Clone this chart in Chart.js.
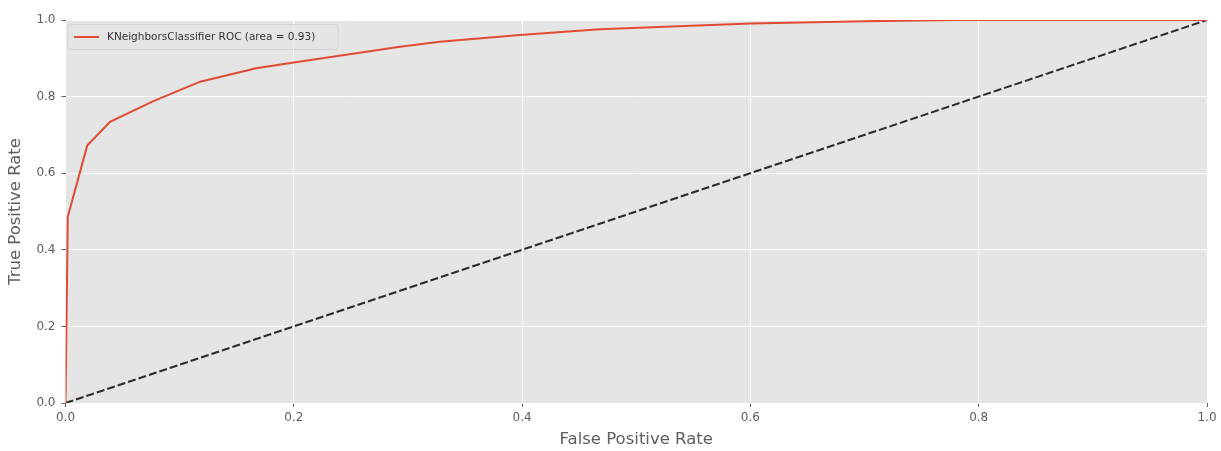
<!DOCTYPE html>
<html>
<head>
<meta charset="utf-8">
<script src="https://cdn.jsdelivr.net/npm/chart.js@4/dist/chart.umd.min.js"></script>
<style>
  html, body { margin: 0; padding: 0; background: #ffffff; }
  #wrap { width: 1221px; height: 451px; position: relative; }
</style>
</head>
<body>
<div id="wrap"><canvas id="roc"></canvas></div>
<script>
// ROC curve of the KNeighborsClassifier (false positive rate vs. true positive rate)
const fpr = [0, 0.002, 0.019, 0.039, 0.077, 0.118, 0.167, 0.200, 0.293, 0.328, 0.398, 0.468, 0.600, 0.700, 0.780, 1.000];
const tpr = [0, 0.486, 0.672, 0.734, 0.788, 0.839, 0.874, 0.889, 0.930, 0.943, 0.961, 0.976, 0.991, 0.997, 1.000, 1.000];

// chance diagonal
const chanceX = [0, 1];
const chanceY = [0, 1];

const rocLabel = 'KNeighborsClassifier ROC (area = 0.93)';
const xTitle = 'False Positive Rate';
const yTitle = 'True Positive Rate';
const tickValues = [0, 0.2, 0.4, 0.6, 0.8, 1.0];

const FONT = "'DejaVu Sans', sans-serif";
const TEXT_GREY = '#5e5e5e';

const toPoints = (xs, ys) => xs.map((x, i) => ({ x: x, y: ys[i] }));

// grey panel behind the plot
const panelBackground = {
  id: 'panelBackground',
  beforeDraw(chart) {
    const { ctx, chartArea: a } = chart;
    ctx.save();
    ctx.fillStyle = '#E5E5E5';
    ctx.fillRect(a.left, a.top, a.right - a.left, a.bottom - a.top);
    ctx.restore();
  }
};

// boxed legend in the upper-left corner of the plot
const cornerLegend = {
  id: 'cornerLegend',
  afterDatasetsDraw(chart) {
    const { ctx, chartArea: a } = chart;
    const ds = chart.data.datasets[0];
    const x = a.left + 2.5, y = a.top + 4.5, w = 270, h = 25, r = 3;
    ctx.save();
    ctx.beginPath();
    ctx.moveTo(x + r, y);
    ctx.lineTo(x + w - r, y);
    ctx.quadraticCurveTo(x + w, y, x + w, y + r);
    ctx.lineTo(x + w, y + h - r);
    ctx.quadraticCurveTo(x + w, y + h, x + w - r, y + h);
    ctx.lineTo(x + r, y + h);
    ctx.quadraticCurveTo(x, y + h, x, y + h - r);
    ctx.lineTo(x, y + r);
    ctx.quadraticCurveTo(x, y, x + r, y);
    ctx.closePath();
    ctx.fillStyle = 'rgba(229,229,229,0.8)';
    ctx.fill();
    ctx.strokeStyle = '#d4d4d4';
    ctx.lineWidth = 1;
    ctx.stroke();

    const cy = y + h / 2;
    ctx.beginPath();
    ctx.moveTo(x + 6, cy);
    ctx.lineTo(x + 31, cy);
    ctx.strokeStyle = ds.borderColor;
    ctx.lineWidth = ds.borderWidth;
    ctx.stroke();

    ctx.fillStyle = '#333333';
    ctx.font = '10.5px ' + FONT;
    ctx.textBaseline = 'middle';
    ctx.textAlign = 'left';
    ctx.fillText(ds.label, x + 39, cy);
    ctx.restore();
  }
};

const axisCommon = {
  type: 'linear',
  min: 0,
  max: 1,
  border: { display: false },
  grid: {
    color: '#ffffff',
    lineWidth: 1,
    drawTicks: true,
    tickLength: 4,
    tickColor: TEXT_GREY,
    tickWidth: 1
  },
  afterBuildTicks(scale) {
    scale.ticks = tickValues.map(v => ({ value: v }));
  }
};

new Chart(document.getElementById('roc'), {
  type: 'line',
  data: {
    datasets: [
      {
        label: rocLabel,
        data: toPoints(fpr, tpr),
        borderColor: '#E24A33',
        borderWidth: 2,
        pointRadius: 0,
        tension: 0,
        fill: false,
        clip: 0
      },
      {
        label: 'chance',
        data: toPoints(chanceX, chanceY),
        borderColor: '#2b2b2b',
        borderWidth: 2,
        borderDash: [8, 3],
        pointRadius: 0,
        tension: 0,
        fill: false,
        clip: 0
      }
    ]
  },
  options: {
    responsive: true,
    maintainAspectRatio: false,
    animation: false,
    layout: { padding: { top: 20, right: 14, left: 0, bottom: 0 } },
    plugins: {
      legend: { display: false },
      tooltip: { enabled: false },
      title: { display: false }
    },
    scales: {
      x: Object.assign({}, axisCommon, {
        position: 'bottom',
        ticks: {
          color: TEXT_GREY,
          font: { family: FONT, size: 12 },
          padding: 4,
          maxRotation: 0,
          callback: v => v.toFixed(1)
        },
        title: {
          display: true,
          text: xTitle,
          color: TEXT_GREY,
          font: { family: FONT, size: 16.5 },
          padding: { top: 0, bottom: 1 }
        },
        afterFit(scale) { scale.height = 48; }
      }),
      y: Object.assign({}, axisCommon, {
        position: 'left',
        ticks: {
          color: TEXT_GREY,
          font: { family: FONT, size: 12 },
          padding: 6,
          callback: v => v.toFixed(1)
        },
        title: {
          display: true,
          text: yTitle,
          color: TEXT_GREY,
          font: { family: FONT, size: 16.5 },
          padding: { top: 6, bottom: 0 }
        },
        afterFit(scale) { scale.width = 65.5; }
      })
    }
  },
  plugins: [panelBackground, cornerLegend]
});
</script>
</body>
</html>
